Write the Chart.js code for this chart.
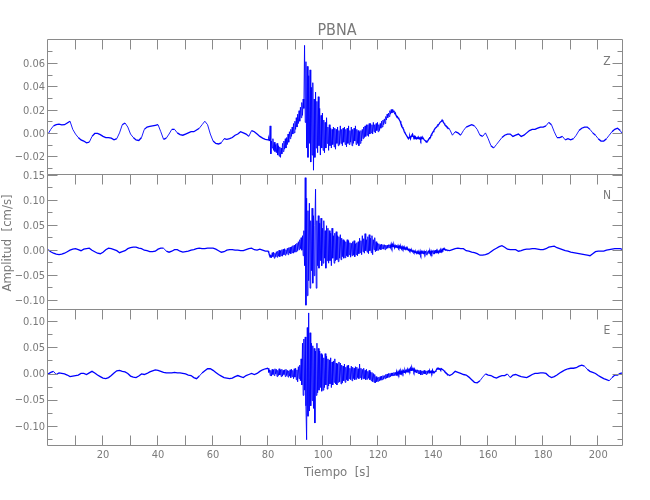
<!DOCTYPE html>
<html>
<head>
<meta charset="utf-8">
<script src="https://cdn.jsdelivr.net/npm/chart.js@4/dist/chart.umd.min.js"></script>
<style>
  body { margin: 0; background: #fff; }
  #wrap { position: relative; width: 650px; height: 500px; }
  #wrap canvas { position: absolute; left: 0; top: 0; }
</style>
</head>
<body>
<div id="wrap">
  <canvas id="chartZ" width="650" height="500"></canvas>
  <canvas id="chartN" width="650" height="500"></canvas>
  <canvas id="chartE" width="650" height="500"></canvas>
</div>
<script>
// sample layout: 1 s samples from 0 to 79, 0.25 s samples from 80 to 144.75, 1 s samples from 145 to 209
var earlyStart = 0, eventStart = 80, eventStep = 0.25, lateStart = 145;

// Z component
var zEarly = [0.000,0.004,0.007,0.008,0.0085,0.0078,0.008,0.0095,0.011,0.004,
  0.000,-0.003,-0.005,-0.006,-0.0075,-0.007,-0.002,0.0005,0.0006,-0.0005,
  -0.002,-0.003,-0.003,-0.0035,-0.005,-0.004,0.001,0.008,0.0095,0.006,
  0.000,-0.003,-0.005,-0.0055,-0.003,0.004,0.006,0.0065,0.007,0.0075,
  0.008,0.002,-0.0045,-0.0035,0.000,0.004,0.004,0.001,-0.0005,-0.001,
  0.000,0.001,0.002,0.002,0.0035,0.005,0.008,0.011,0.008,0.000,
  -0.006,-0.008,-0.0085,-0.0075,-0.004,-0.0045,-0.004,-0.003,-0.001,0.000,
  0.002,0.001,0.000,-0.002,0.003,0.002,0.000,-0.002,-0.0035,-0.0045];
var zEvent = [
  -0.005,-0.004,-0.006,0.007, -0.017,-0.006,-0.012,-0.004, -0.014,-0.007,-0.015,-0.009, -0.016,-0.008,-0.018,-0.010,
  -0.019,-0.011,-0.020,-0.012, -0.017,-0.008,-0.015,-0.006, -0.013,-0.004,-0.012,-0.003, -0.009,0.000,-0.007,0.002,
  -0.004,0.004,-0.002,0.006, 0.000,0.009,0.001,0.011, 0.004,0.014,0.006,0.017, 0.009,0.020,0.011,0.023,
  0.014,0.027,0.016,0.030, 0.022,0.076,0.010,0.062, -0.012,0.058,-0.020,0.050, -0.008,0.055,-0.024,0.040,
  -0.018,0.044,-0.031,0.030, -0.020,0.036,-0.012,0.028, -0.016,0.032,-0.010,0.022, -0.018,0.016,-0.012,0.018,
  -0.014,0.012,-0.016,0.010, -0.012,0.014,-0.008,0.006, -0.014,0.008,-0.010,0.005, -0.012,0.004,-0.009,0.006,
  -0.011,0.005,-0.013,0.004, -0.008,0.006,-0.010,0.003, -0.009,0.007,-0.008,0.004, -0.010,0.005,-0.007,0.006,
  -0.009,0.004,-0.011,0.005, -0.008,0.007,-0.009,0.003, -0.007,0.006,-0.010,0.004, -0.008,0.005,-0.006,0.007,
  -0.009,0.004,-0.008,0.003, -0.010,0.002,-0.008,0.003, -0.006,0.004,-0.004,0.006, -0.003,0.007,-0.002,0.008,
  -0.001,0.008,-0.002,0.009, 0.000,0.009,0.001,0.008, 0.000,0.010,0.002,0.008, 0.001,0.009,0.003,0.010,
  0.002,0.008,0.003,0.009, 0.005,0.011,0.006,0.012, 0.008,0.013,0.009,0.015, 0.012,0.017,0.014,0.018,
  0.015,0.020,0.017,0.021, 0.018,0.021,0.019,0.020, 0.017,0.018,0.016,0.015, 0.015,0.014,0.013,0.012,
  0.011,0.009,0.008,0.006, 0.005,0.004,0.002,0.001, 0.000,-0.001,-0.002,-0.003, -0.004,-0.003,-0.002,-0.004,
  -0.002,-0.001,0.000,-0.002, -0.003,-0.002,-0.004,-0.003, -0.004,-0.003,-0.004,-0.003, -0.004,-0.003,-0.005,-0.003,
  -0.004,-0.003,-0.004,-0.005, -0.005,-0.006,-0.007,-0.006, -0.006,-0.005,-0.004,-0.003, -0.003,-0.001,0.000,0.001,
  0.002,0.003,0.004,0.005, 0.005,0.006,0.007,0.008, 0.008,0.009,0.010,0.010, 0.011,0.012,0.011,0.010,
  0.009,0.008,0.007,0.007];
var zLate = [0.006,0.004,-0.001,0.002,0.001,-0.001,0.003,0.006,0.007,0.008,
  0.007,0.004,-0.001,-0.002,0.001,-0.004,-0.010,-0.012,-0.009,-0.006,
  -0.003,-0.001,0.000,0.000,-0.002,-0.001,0.000,-0.002,-0.001,0.001,
  0.003,0.004,0.004,0.005,0.006,0.006,0.007,0.010,0.008,0.002,
  -0.003,-0.003,-0.002,-0.005,-0.004,-0.005,-0.004,-0.001,0.003,0.005,
  0.006,0.006,0.004,0.001,-0.001,-0.004,-0.006,-0.006,-0.004,-0.001,
  0.002,0.004,0.005,0.003,-0.001];

// N component
var nEarly = [0.002,-0.002,-0.005,-0.007,-0.008,-0.007,-0.005,-0.002,0.001,0.003,
  0.004,0.002,0.000,0.003,0.004,0.005,0.001,-0.002,-0.005,-0.006,
  -0.003,0.002,0.005,0.004,0.002,0.000,-0.004,-0.002,0.000,0.004,
  0.006,0.007,0.007,0.005,0.004,0.001,0.000,-0.002,-0.002,-0.001,
  0.003,0.005,0.005,-0.001,-0.003,-0.001,0.002,0.002,-0.001,-0.003,
  -0.002,-0.001,0.001,0.002,0.004,0.005,0.004,0.004,0.005,0.005,
  0.005,0.003,0.000,-0.003,-0.002,0.001,0.002,0.002,0.001,0.001,
  0.000,0.000,0.002,0.004,0.005,0.002,0.001,0.003,0.001,-0.001];
var nEvent = [
  -0.001,-0.004,-0.009,-0.013, -0.008,-0.014,-0.004,-0.012, -0.003,-0.015,-0.005,-0.012, -0.002,-0.013,-0.001,-0.011,
  0.001,-0.012,0.000,-0.010, 0.002,-0.011,0.003,-0.008, 0.004,-0.009,0.002,-0.006, 0.005,-0.008,0.006,-0.005,
  0.007,-0.006,0.008,-0.004, 0.010,-0.005,0.011,-0.003, 0.013,-0.002,0.015,0.000, 0.018,0.002,0.022,0.004,
  0.026,0.001,0.030,-0.010, 0.040,-0.030,0.146,-0.109, 0.105,-0.090,0.080,-0.060, 0.095,-0.075,0.060,-0.040,
  0.085,-0.065,0.070,-0.050, 0.050,0.123,-0.075,0.060, -0.030,0.070,-0.035,0.055, -0.020,0.065,-0.030,0.045,
  -0.025,0.060,-0.015,0.040, -0.035,0.050,-0.020,0.045, -0.025,0.040,-0.020,0.035, -0.030,0.045,-0.015,0.030,
  -0.025,0.035,-0.020,0.038, -0.018,0.030,-0.022,0.028, -0.015,0.032,-0.018,0.025, -0.012,0.022,-0.015,0.020,
  -0.014,0.018,-0.010,0.022, -0.012,0.020,-0.008,0.016, -0.013,0.015,-0.010,0.018, -0.009,0.020,-0.012,0.014,
  -0.008,0.016,-0.010,0.018, -0.006,0.025,-0.004,0.020, -0.008,0.030,-0.002,0.024, -0.005,0.034,0.000,0.022,
  -0.003,0.028,-0.006,0.032, 0.000,0.025,-0.004,0.030, -0.008,0.022,0.002,0.026, -0.002,0.018,0.000,0.015,
  0.001,0.014,0.003,0.012, 0.002,0.013,0.004,0.012, 0.003,0.012,0.002,0.011, 0.004,0.011,0.005,0.012,
  0.006,0.012,0.007,0.013, 0.007,0.012,0.008,0.011, 0.006,0.010,0.007,0.011, 0.005,0.010,0.006,0.009,
  0.005,0.008,0.004,0.008, 0.004,0.007,0.003,0.006, 0.003,0.006,0.002,0.004, 0.001,0.003,0.000,0.002,
  -0.001,0.001,-0.002,0.000, -0.003,-0.001,-0.004,-0.002, -0.005,-0.002,-0.006,-0.003, -0.006,-0.001,-0.007,-0.002,
  -0.005,0.000,-0.007,-0.002, -0.006,-0.001,-0.008,-0.003, -0.006,0.000,-0.005,-0.002, -0.007,-0.001,-0.005,0.000,
  -0.006,-0.002,-0.004,0.001, -0.005,0.000,-0.004,-0.001, -0.004,0.000,-0.003,0.001, -0.002,0.003,0.001,0.004,
  0.002,0.003,0.001,0.002];
var nLate = [0.001,0.000,0.002,0.004,0.005,0.004,0.004,0.000,-0.001,-0.003,
  -0.004,-0.006,-0.009,-0.009,-0.008,-0.006,-0.002,0.002,0.005,0.008,
  0.010,0.007,0.003,0.002,0.002,0.002,-0.001,0.000,0.002,0.003,
  0.003,0.004,0.004,0.003,0.002,0.002,0.004,0.007,0.008,0.009,
  0.006,0.004,0.002,0.000,-0.001,-0.003,-0.004,-0.005,-0.006,-0.007,
  -0.008,-0.009,-0.010,-0.006,-0.002,-0.001,-0.001,-0.001,0.001,0.002,
  0.003,0.004,0.004,0.004,0.002];

// E component
var eEarly = [0.001,0.004,0.006,0.000,0.003,0.002,0.001,-0.001,-0.004,-0.003,
  -0.002,-0.001,0.002,0.002,0.000,0.003,0.006,0.003,-0.001,-0.004,
  -0.007,-0.008,-0.006,-0.002,0.003,0.007,0.008,0.006,0.005,0.002,
  -0.003,-0.005,-0.006,-0.003,0.001,0.000,0.002,0.005,0.007,0.009,
  0.008,0.006,0.004,0.003,0.003,0.003,0.004,0.003,0.003,0.002,
  0.001,-0.001,-0.002,-0.006,-0.008,-0.003,0.003,0.007,0.011,0.011,
  0.008,0.004,0.000,-0.003,-0.006,-0.007,-0.008,-0.007,-0.004,-0.002,
  -0.004,-0.006,-0.002,0.000,0.002,0.000,0.002,0.006,0.009,0.011];
var eEvent = [
  0.012,0.004,0.009,-0.002, 0.008,-0.003,0.010,0.000, 0.009,-0.002,0.011,0.001, 0.010,-0.004,0.008,-0.002,
  0.011,-0.001,0.009,-0.004, 0.010,-0.003,0.008,0.000, 0.009,-0.004,0.010,-0.002, 0.008,-0.005,0.007,-0.003,
  0.009,-0.006,0.010,-0.004, 0.008,-0.008,0.011,-0.005, 0.012,-0.010,0.009,-0.014, 0.015,-0.008,0.018,-0.012,
  0.030,-0.020,0.060,-0.040, 0.068,-0.030,0.072,-0.060, -0.125,0.090,-0.080,0.118, -0.070,0.080,-0.060,0.060,
  -0.050,0.055,-0.065,0.050, -0.093,0.045,-0.040,0.060, -0.035,0.050,-0.030,0.045, -0.025,0.040,-0.032,0.038,
  -0.030,0.032,-0.025,0.040, -0.020,0.035,-0.028,0.030, -0.022,0.028,-0.018,0.032, -0.025,0.024,-0.020,0.026,
  -0.015,0.030,-0.018,0.022, -0.020,0.020,-0.015,0.024, -0.014,0.022,-0.018,0.018, -0.016,0.016,-0.012,0.020,
  -0.015,0.014,-0.010,0.017, -0.012,0.018,-0.008,0.012, -0.010,0.016,-0.012,0.014, -0.008,0.012,-0.010,0.015,
  -0.009,0.014,-0.006,0.011, -0.008,0.020,-0.006,0.012, -0.010,0.010,-0.008,0.012, -0.008,0.008,-0.010,0.010,
  -0.009,0.006,-0.007,0.008, -0.010,0.005,-0.012,0.004, -0.014,0.002,-0.015,0.000, -0.016,-0.004,-0.014,-0.006,
  -0.013,-0.005,-0.012,-0.004, -0.011,-0.003,-0.010,-0.002, -0.009,-0.002,-0.008,0.000, -0.007,0.001,-0.006,0.002,
  -0.005,0.002,-0.004,0.003, -0.003,0.003,-0.002,0.004, -0.002,0.004,-0.001,0.004, 0.000,0.005,0.001,0.006,
  0.001,0.006,0.002,0.007, 0.003,0.007,0.004,0.008, 0.004,0.008,0.005,0.009, 0.006,0.010,0.007,0.012,
  0.008,0.013,0.009,0.011, 0.006,0.010,0.005,0.009, 0.003,0.009,0.002,0.008, 0.001,0.008,-0.001,0.006,
  0.000,0.007,0.002,0.008, 0.001,0.006,0.000,0.007, 0.002,0.008,0.003,0.007, 0.004,0.006,0.003,0.008,
  0.003,0.005,0.004,0.006, 0.007,0.010,0.012,0.011, 0.012,0.010,0.011,0.009, 0.011,0.010,0.010,0.008,
  0.007,0.005,0.004,0.003];
var eLate = [0.001,-0.002,0.001,0.006,0.004,0.002,0.000,-0.001,-0.005,-0.010,
  -0.015,-0.016,-0.012,-0.005,0.001,-0.001,-0.002,-0.005,-0.007,-0.004,
  -0.002,-0.002,0.001,-0.006,-0.001,0.000,-0.002,-0.004,-0.005,-0.006,
  -0.003,0.000,0.002,0.002,0.003,0.003,0.002,-0.003,-0.006,-0.004,
  -0.001,0.003,0.006,0.009,0.011,0.012,0.012,0.013,0.016,0.018,
  0.016,0.010,0.006,0.004,0.002,-0.002,-0.005,-0.008,-0.010,-0.012,
  -0.006,-0.001,-0.001,0.002,0.003];

// axis ranges and ticks
var timeMin = 0, timeMax = 209;
var timeLabels = [20, 40, 60, 80, 100, 120, 140, 160, 180, 200];
var timeTicks = [10, 20, 30, 40, 50, 60, 70, 80, 90, 100, 110, 120, 130, 140, 150, 160, 170, 180, 190, 200];

var zRange = [-0.0351, 0.0806];
var zLabels = [-0.02, 0.00, 0.02, 0.04, 0.06];
var zMinor = [-0.03, -0.01, 0.01, 0.03, 0.05, 0.07];

var nRange = [-0.1186, 0.1514];
var nLabels = [-0.10, -0.05, 0.00, 0.05, 0.10, 0.15];
var nMinor = [-0.075, -0.025, 0.025, 0.075, 0.125];

var eRange = [-0.137, 0.1236];
var eLabels = [-0.10, -0.05, 0.00, 0.05, 0.10];
var eMinor = [-0.125, -0.075, -0.025, 0.025, 0.075];

var grey = '#8a8a8a';
var textGrey = '#7a7a7a';
var fontFamily = "'Liberation Sans Narrow', 'DejaVu Sans Condensed', 'Roboto', sans-serif";

function buildTrace(early, ev, late) {
  var pts = [];
  early.forEach(function (v, i) { pts.push({ x: earlyStart + i, y: v }); });
  ev.forEach(function (v, i) { pts.push({ x: eventStart + i * eventStep, y: v }); });
  late.forEach(function (v, i) { pts.push({ x: lateStart + i, y: v }); });
  return pts;
}

function fmt(v) {
  return (v < 0 ? '\u2212' : '') + Math.abs(v).toFixed(2);
}

var framePlugin = {
  id: 'frame',
  afterDraw: function (chart, args, o) {
    var ctx = chart.ctx, a = chart.chartArea;
    var xs = chart.scales.x, ys = chart.scales.y;
    var L = Math.round(a.left) - 0.5, R = Math.round(a.right) - 0.5;
    var T = Math.round(a.top) - 0.5, B = Math.round(a.bottom) - 0.5;
    ctx.save();
    ctx.strokeStyle = grey;
    ctx.lineWidth = 1;
    ctx.beginPath();
    ctx.rect(L, T, R - L, B - T);
    timeTicks.forEach(function (t) {
      var px = Math.round(xs.getPixelForValue(t)) - 0.5;
      ctx.moveTo(px, T); ctx.lineTo(px, T + 10);
      if (o.bottomTicks) { ctx.moveTo(px, B); ctx.lineTo(px, B - 10); }
    });
    o.major.forEach(function (v) {
      var py = Math.round(ys.getPixelForValue(v)) - 0.5;
      ctx.moveTo(L, py); ctx.lineTo(L + 10, py);
      ctx.moveTo(R, py); ctx.lineTo(R - 10, py);
    });
    o.minor.forEach(function (v) {
      var py = Math.round(ys.getPixelForValue(v)) - 0.5;
      ctx.moveTo(L, py); ctx.lineTo(L + 5, py);
      ctx.moveTo(R, py); ctx.lineTo(R - 5, py);
    });
    ctx.stroke();

    ctx.fillStyle = textGrey;
    ctx.textAlign = 'center';
    ctx.textBaseline = 'middle';
    ctx.font = '12px ' + fontFamily;
    ctx.fillText(o.letter, o.letterX, o.letterY);
    (o.texts || []).forEach(function (t) {
      ctx.save();
      ctx.font = t.size + 'px ' + fontFamily;
      ctx.translate(t.x, t.y);
      if (t.rotate) ctx.rotate(t.rotate);
      ctx.fillText(t.text, 0, 0);
      ctx.restore();
    });
    ctx.restore();
  }
};

// smooth stretches drawn a little heavier than the dense oscillating ones
function segWidth(c) {
  return Math.abs(c.p1.y - c.p0.y) < 3 ? 1.3 : 0.9;
}

function makePanel(id, pts, range, labels, minor, top, bottom, extra) {
  var isBottom = !!extra.bottomAxis;
  return new Chart(document.getElementById(id).getContext('2d'), {
    type: 'line',
    data: {
      datasets: [{
        data: pts,
        borderColor: 'rgb(0, 0, 255)',
        borderWidth: 0.9,
        pointRadius: 0,
        tension: 0,
        segment: { borderWidth: segWidth }
      }]
    },
    options: {
      responsive: false,
      animation: false,
      events: [],
      layout: { padding: { left: 0, right: 27, top: top, bottom: isBottom ? 500 - bottom - 40 : 500 - bottom } },
      plugins: {
        legend: { display: false },
        tooltip: { enabled: false },
        frame: {
          major: labels, minor: minor, bottomTicks: isBottom,
          letter: extra.letter, letterX: 607, letterY: extra.letterY,
          texts: extra.texts
        }
      },
      scales: {
        x: {
          type: 'linear', min: timeMin, max: timeMax,
          display: isBottom,
          afterFit: function (s) { if (isBottom) s.height = 40; },
          afterBuildTicks: function (s) { s.ticks = timeLabels.map(function (v) { return { value: v }; }); },
          ticks: { color: textGrey, font: { family: fontFamily, size: 11 }, padding: 3, maxRotation: 0, autoSkip: false },
          grid: { drawOnChartArea: false, drawTicks: false },
          border: { display: false }
        },
        y: {
          min: range[0], max: range[1],
          position: 'left',
          afterFit: function (s) { s.width = 48; },
          afterBuildTicks: function (s) { s.ticks = labels.map(function (v) { return { value: v }; }); },
          ticks: { color: textGrey, font: { family: fontFamily, size: 11 }, padding: 3, callback: fmt, autoSkip: false },
          grid: { drawOnChartArea: false, drawTicks: false },
          border: { display: false }
        }
      }
    },
    plugins: [framePlugin]
  });
}

var chartZ = makePanel('chartZ', buildTrace(zEarly, zEvent, zLate), zRange, zLabels, zMinor, 40, 175,
  { letter: 'Z', letterY: 62, texts: [{ text: 'PBNA', x: 337, y: 31, size: 16 }] });
var chartN = makePanel('chartN', buildTrace(nEarly, nEvent, nLate), nRange, nLabels, nMinor, 175, 310,
  { letter: 'N', letterY: 196, texts: [{ text: 'Amplitud  [cm/s]', x: 8, y: 243, size: 13, rotate: -Math.PI / 2 }] });
var chartE = makePanel('chartE', buildTrace(eEarly, eEvent, eLate), eRange, eLabels, eMinor, 310, 446,
  { letter: 'E', letterY: 331, bottomAxis: true, texts: [{ text: 'Tiempo  [s]', x: 337, y: 473, size: 13 }] });
</script>
</body>
</html>
